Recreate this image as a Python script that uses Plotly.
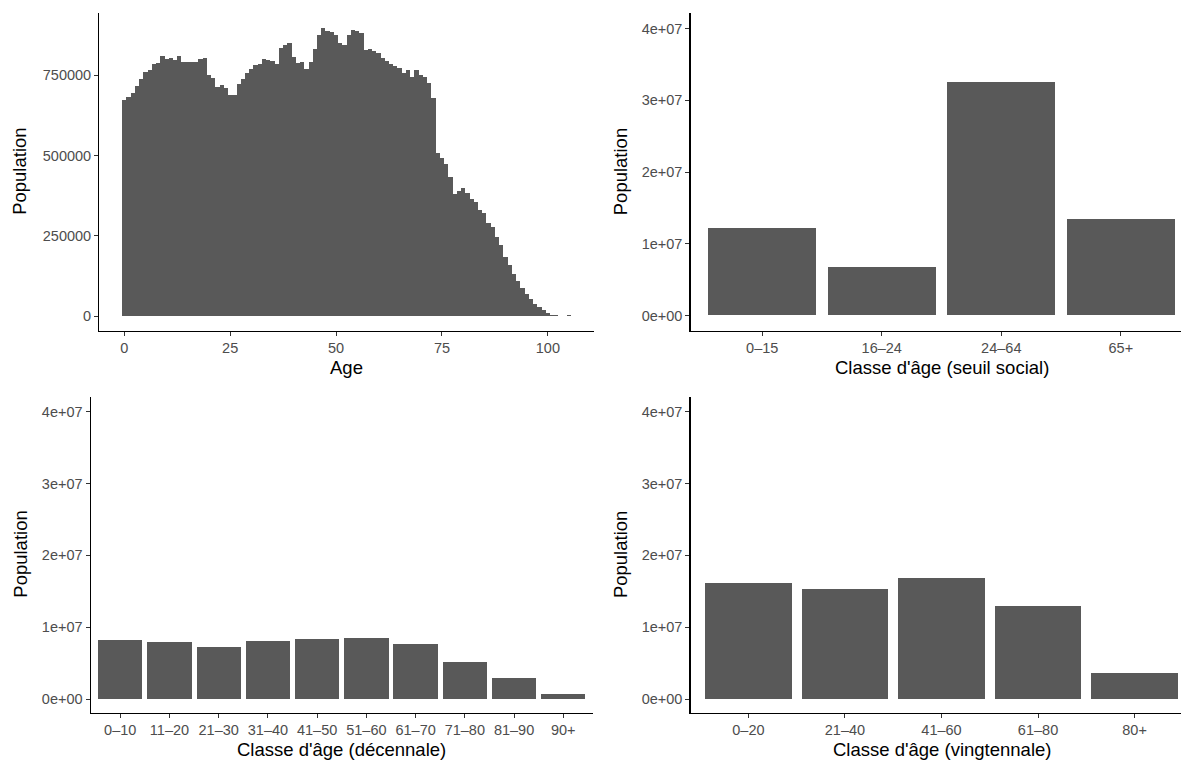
import plotly.graph_objects as go

W, H = 1181, 760

# ---------------- data ----------------
ages = list(range(0, 106))
age_population = [
    672000, 682000, 695000, 716000, 738000, 759000, 765000, 785000, 788000, 809000,
    800000, 803000, 797000, 809000, 791000, 791000, 791000, 791000, 800000, 803000,
    751000, 741000, 713000, 719000, 710000, 689000, 689000, 722000, 738000, 756000,
    769000, 781000, 784000, 800000, 797000, 793000, 784000, 834000, 843000, 850000,
    806000, 787000, 790000, 769000, 790000, 831000, 875000, 895000, 888000, 885000,
    875000, 850000, 843000, 875000, 890000, 888000, 880000, 827000, 831000, 824000,
    818000, 803000, 793000, 784000, 778000, 772000, 756000, 765000, 744000, 765000,
    750000, 744000, 726000, 679000, 508000, 493000, 474000, 434000, 381000, 390000,
    399000, 384000, 365000, 356000, 331000, 322000, 291000, 278000, 247000, 222000,
    185000, 160000, 132000, 110000, 89000, 70000, 54000, 39000, 30000, 20000,
    11000, 5000, 5000, 2000, 2000, 4000,
]

social_classes = ["0–15", "16–24", "24–64", "65+"]
social_population = [12.22e6, 6.78e6, 32.57e6, 13.47e6]

decade_classes = ["0–10", "11–20", "21–30", "31–40", "41–50",
                  "51–60", "61–70", "71–80", "81–90", "90+"]
decade_population = [8.25e6, 7.97e6, 7.28e6, 8.11e6, 8.39e6,
                     8.53e6, 7.69e6, 5.19e6, 2.97e6, 0.74e6]

twenty_classes = ["0–20", "21–40", "41–60", "61–80", "80+"]
twenty_population = [16.18e6, 15.34e6, 16.87e6, 12.98e6, 3.66e6]

age_ticks = [0, 25, 50, 75, 100]
pop_ticks_1 = [0, 250000, 500000, 750000]
pop_ticks_1_text = ["0", "250000", "500000", "750000"]
pop_ticks_2 = [0, 1e7, 2e7, 3e7, 4e7]
pop_ticks_2_text = ["0e+00", "1e+07", "2e+07", "3e+07", "4e+07"]

x_titles = ["Age", "Classe d'âge (seuil social)",
            "Classe d'âge (décennale)", "Classe d'âge (vingtennale)"]
y_title = "Population"

# ---------------- style ----------------
BAR = "#595959"
FONT = "Liberation Sans, Arial, sans-serif"
TICKFONT = dict(family=FONT, size=14.5, color="#4D4D4D")
TITLEFONT = dict(family=FONT, size=18.5, color="black")


def px_x(p):
    return p / W


def px_y(p):
    return 1 - p / H


# panel pixel boxes: (left, right, top, bottom)
boxes = [
    (99.3, 593.6, 13, 330.7),
    (690.5, 1181, 13, 330.7),
    (90.7, 592.8, 396.7, 712.7),
    (690.5, 1181, 396.7, 712.7),
]

fig = go.Figure()

fig.add_trace(go.Bar(x=ages, y=age_population, width=1, marker_color=BAR,
                     marker_line_width=0, xaxis="x", yaxis="y"))
fig.add_trace(go.Bar(x=social_classes, y=social_population, width=0.9,
                     marker_color=BAR, marker_line_width=0, xaxis="x2", yaxis="y2"))
fig.add_trace(go.Bar(x=decade_classes, y=decade_population, width=0.9,
                     marker_color=BAR, marker_line_width=0, xaxis="x3", yaxis="y3"))
fig.add_trace(go.Bar(x=twenty_classes, y=twenty_population, width=0.9,
                     marker_color=BAR, marker_line_width=0, xaxis="x4", yaxis="y4"))

common = dict(showline=True, linecolor="black", linewidth=1.2, showgrid=False,
              zeroline=False, ticks="outside", ticklen=4, tickwidth=1,
              tickcolor="#333333", tickfont=TICKFONT, fixedrange=True)

x_ranges = [
    [-5.9, 110.8],
    [-0.6, 3.6 - 11.5 / 119.3],
    [-0.6, 9.6],
    [-0.6, 4.6 - 11.5 / 96.6],
]
y_ranges = [
    [-45000, 943000],
    [-2.13e6, 4.219e7],
    [-1.9e6, 4.21e7],
    [-1.9e6, 4.21e7],
]

layout = dict(
    width=W, height=H, margin=dict(l=0, r=0, t=0, b=0),
    paper_bgcolor="white", plot_bgcolor="white", showlegend=False,
    bargap=0, hovermode=False,
)

for i, (l, r, t, b) in enumerate(boxes):
    sx = "" if i == 0 else str(i + 1)
    xa = dict(common, domain=[px_x(l), px_x(r)], range=x_ranges[i],
              anchor="y" + sx)
    ya = dict(common, domain=[px_y(b), px_y(t)], range=y_ranges[i],
              anchor="x" + sx)
    if i == 0:
        xa.update(tickmode="array", tickvals=age_ticks)
        ya.update(tickmode="array", tickvals=pop_ticks_1, ticktext=pop_ticks_1_text)
    else:
        xa.update(type="category")
        ya.update(tickmode="array", tickvals=pop_ticks_2, ticktext=pop_ticks_2_text)
    layout["xaxis" + sx] = xa
    layout["yaxis" + sx] = ya

annotations = []
ytitle_x = [20, 620.4, 21, 620.4]
for i, (l, r, t, b) in enumerate(boxes):
    cx = (l + r) / 2 if i in (0, 2) else (690.5 + 1192.5) / 2
    annotations.append(dict(
        text=x_titles[i], xref="paper", yref="paper",
        x=px_x(cx), y=px_y(b + 36.5), xanchor="center", yanchor="middle",
        showarrow=False, font=TITLEFONT))
    annotations.append(dict(
        text=y_title, xref="paper", yref="paper",
        x=px_x(ytitle_x[i]), y=px_y((t + b) / 2), xanchor="center",
        yanchor="middle", textangle=-90, showarrow=False, font=TITLEFONT))
layout["annotations"] = annotations

fig.update_layout(**layout)
fig.write_html(
    "out.html",
    config={"displayModeBar": False, "staticPlot": True},
    post_script="document.body.style.margin='0';document.body.style.overflow='hidden';",
)
